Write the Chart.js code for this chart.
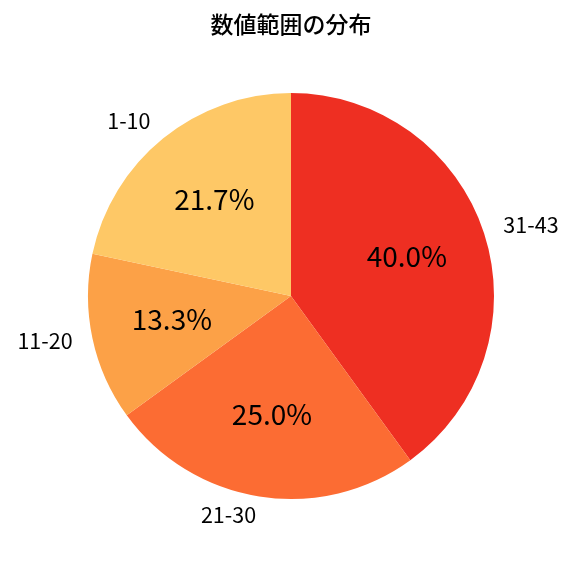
<!DOCTYPE html>
<html>
<head>
<meta charset="utf-8">
<script src="https://cdn.jsdelivr.net/npm/chart.js@4"></script>
<style>
  html, body { margin: 0; padding: 0; background: #fff; }
  #wrap { width: 576px; height: 576px; }
</style>
</head>
<body>
<div id="wrap"><canvas id="pieChart" width="576" height="576"></canvas></div>
<script>
const chartTitle = "数値範囲の分布";
const categories = ["1-10", "11-20", "21-30", "31-43"];
const counts = [13, 8, 15, 24];
const sliceColors = ["#fec866", "#fca147", "#fc6c33", "#ee2f22"];

const FONT = '"Noto Sans CJK JP", "Noto Sans", sans-serif';

// matplotlib draws counter-clockwise from the top; Chart.js goes clockwise, so reverse
const order = categories.map((_, i) => i).reverse();

/* labels outside, percentages inside */
const textPlugin = {
    id: "pieText",
    afterDraw(chart) {
        const ctx = chart.ctx;
        const meta = chart.getDatasetMeta(0);
        const total = counts.reduce((a, b) => a + b, 0);
        const dy = -2;
        ctx.save();
        ctx.fillStyle = "#000";
        ctx.textBaseline = "middle";

        ctx.font = "500 23px " + FONT;
        ctx.textAlign = "center";
        ctx.fillText(chartTitle, 291, 24);

        meta.data.forEach((arc, i) => {
            const idx = order[i];
            const mid = (arc.startAngle + arc.endAngle) / 2;
            const r = arc.outerRadius;
            const cx = arc.x, cy = arc.y;

            const pct = (counts[idx] / total * 100).toFixed(1) + "%";
            ctx.font = "28px " + FONT;
            ctx.textAlign = "center";
            ctx.fillText(pct, cx + Math.cos(mid) * r * 0.6, cy + Math.sin(mid) * r * 0.6 + dy);

            const lx = cx + Math.cos(mid) * r * 1.1;
            const ly = cy + Math.sin(mid) * r * 1.1;
            ctx.font = "21.5px " + FONT;
            ctx.textAlign = lx >= cx ? "left" : "right";
            ctx.fillText(categories[idx], lx, ly + dy);
        });
        ctx.restore();
    }
};

new Chart(document.getElementById("pieChart"), {
    type: "pie",
    data: {
        labels: order.map(i => categories[i]),
        datasets: [{
            data: order.map(i => counts[i]),
            backgroundColor: order.map(i => sliceColors[i]),
            borderWidth: 0
        }]
    },
    options: {
        responsive: false,
        animation: false,
        layout: { padding: { left: 88, right: 82, top: 93, bottom: 77 } },
        plugins: {
            legend: { display: false },
            tooltip: { enabled: false }
        }
    },
    plugins: [textPlugin]
});
</script>
</body>
</html>
